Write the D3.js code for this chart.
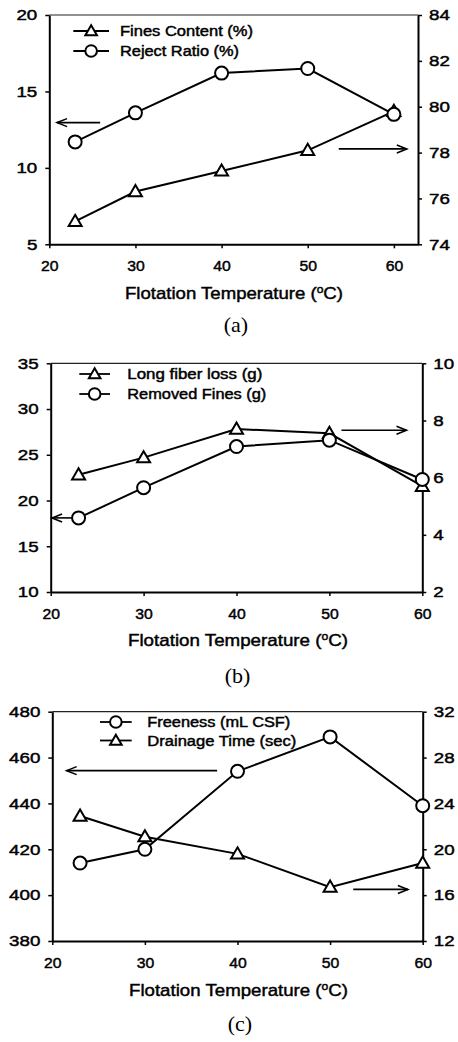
<!DOCTYPE html>
<html>
<head>
<meta charset="utf-8">
<script src="https://cdn.jsdelivr.net/npm/d3@7"></script>
<style>
  html, body { margin: 0; padding: 0; background: #fff; }
  svg { display: block; }
  .sans { font-family: "Liberation Sans", Arial, sans-serif; fill: #000; stroke: #000; stroke-width: 0.45px; }
  .serif { font-family: "Liberation Serif", "DejaVu Serif", serif; fill: #000; }
</style>
</head>
<body>
<svg id="chart" width="458" height="1042"></svg>
<script>
// ---------- data ----------
const temps = [23, 30, 40, 50, 60];
const xTicks = [20, 30, 40, 50, 60];

// (a)
const finesContent = [75.0, 76.3, 77.2, 78.1, 79.8];   // right axis (%)
const rejectRatio  = [11.7, 13.6, 16.2, 16.5, 13.5];   // left axis (%)
const aLeftTicks  = [5, 10, 15, 20];
const aRightTicks = [74, 76, 78, 80, 82, 84];

// (b)
const longFiberLoss = [6.1, 6.7, 7.7, 7.55, 5.7];      // right axis (g)
const removedFines  = [18.1, 21.4, 25.9, 26.6, 22.3];  // left axis (g)
const bLeftTicks  = [10, 15, 20, 25, 30, 35];
const bRightTicks = [2, 4, 6, 8, 10];

// (c)
const freeness     = [414, 420, 454, 469, 439];        // left axis (mL CSF)
const drainageTime = [22.9, 21.1, 19.6, 16.7, 18.8];   // right axis (sec)
const cLeftTicks  = [380, 400, 420, 440, 460, 480];
const cRightTicks = [12, 16, 20, 24, 28, 32];

const xTitle = "Flotation Temperature (";

// ---------- layout ----------
const panels = [
  { cap: "(a)", box: {l: 49.3, r: 418, t: 15, b: 244.3}, xDomain: [20, 62.8],
    left: {domain: [5, 20], ticks: aLeftTicks}, right: {domain: [74, 84], ticks: aRightTicks},
    series: [
      {name: "Fines Content (%)", values: finesContent, axis: "right", marker: "tri", textLen: 133},
      {name: "Reject Ratio (%)", values: rejectRatio, axis: "left", marker: "circ", textLen: 119}
    ],
    legend: {x0: 73.3, x1: 109, tx: 120, y0: 31, dy: 20},
    arrows: [ {axis: "left", from: [25.9, 12.96], to: [20.9, 12.96]},
              {axis: "right", from: [53.6, 78.16], to: [61.5, 78.16]} ],
    titleY: 293, titleX: 234, titleLen: 218, capX: 236, capY: 332 },
  { cap: "(b)", box: {l: 50.7, r: 422.3, t: 363.3, b: 592}, xDomain: [20, 60],
    left: {domain: [10, 35], ticks: bLeftTicks}, right: {domain: [2, 10], ticks: bRightTicks},
    series: [
      {name: "Long fiber loss (g)", values: longFiberLoss, axis: "right", marker: "tri", textLen: 135},
      {name: "Removed Fines (g)", values: removedFines, axis: "left", marker: "circ", textLen: 139}
    ],
    legend: {x0: 79.3, x1: 110, tx: 127.3, y0: 374, dy: 20},
    arrows: [ {axis: "left", from: [22.3, 18.1], to: [20.15, 18.1]},
              {axis: "right", from: [51.3, 7.66], to: [58.3, 7.66]} ],
    titleY: 640, titleX: 238, titleLen: 220, capX: 237.5, capY: 683 },
  { cap: "(c)", box: {l: 52.3, r: 422.7, t: 711.7, b: 941}, xDomain: [20, 60],
    left: {domain: [380, 480], ticks: cLeftTicks}, right: {domain: [12, 32], ticks: cRightTicks},
    series: [
      {name: "Freeness (mL CSF)", values: freeness, axis: "left", marker: "circ", textLen: 143},
      {name: "Drainage Time (sec)", values: drainageTime, axis: "right", marker: "tri", textLen: 149}
    ],
    legend: {x0: 100, x1: 131.7, tx: 147.3, y0: 722, dy: 18.5},
    arrows: [ {axis: "left", from: [37.8, 454.3], to: [21.55, 454.3]},
              {axis: "right", from: [52.5, 16.5], to: [58.4, 16.5]} ],
    titleY: 990, titleX: 238.5, titleLen: 219, capX: 240, capY: 1031 }
];

const svg = d3.select("#chart");

function drawMarker(g, kind, x, y, r) {
  if (kind === "circ") {
    g.append("circle").attr("cx", x).attr("cy", y).attr("r", r)
      .attr("fill", "#fff").attr("stroke", "#000").attr("stroke-width", 2);
  } else {
    const h = r;
    g.append("path")
      .attr("d", `M${x},${y - h} L${x + h},${y + h * 0.72} L${x - h},${y + h * 0.72} Z`)
      .attr("fill", "#fff").attr("stroke", "#000").attr("stroke-width", 2)
      .attr("stroke-linejoin", "miter");
  }
}

function stretch(sel, factor) {
  sel.each(function () {
    const w = this.getComputedTextLength();
    d3.select(this).attr("textLength", w * factor).attr("lengthAdjust", "spacingAndGlyphs");
  });
}

panels.forEach(p => {
  const g = svg.append("g");
  const x = d3.scaleLinear().domain(p.xDomain).range([p.box.l, p.box.r]);
  const yL = d3.scaleLinear().domain(p.left.domain).range([p.box.b, p.box.t]);
  const yR = d3.scaleLinear().domain(p.right.domain).range([p.box.b, p.box.t]);
  const yOf = a => a === "left" ? yL : yR;

  // top border (thin)
  g.append("line").attr("x1", p.box.l).attr("x2", p.box.r)
    .attr("y1", p.box.t).attr("y2", p.box.t)
    .attr("stroke", "#222").attr("stroke-width", 1.2);

  // axes
  const ax = g.append("g").attr("transform", `translate(0,${p.box.b})`)
    .call(d3.axisBottom(x).tickValues(xTicks).tickSize(4).tickPadding(12).tickSizeOuter(0));
  const al = g.append("g").attr("transform", `translate(${p.box.l},0)`)
    .call(d3.axisLeft(yL).tickValues(p.left.ticks).tickSize(4).tickPadding(8).tickSizeOuter(0));
  const ar = g.append("g").attr("transform", `translate(${p.box.r},0)`)
    .call(d3.axisRight(yR).tickValues(p.right.ticks).tickSize(4).tickPadding(7).tickSizeOuter(0));
  [ax, al, ar].forEach(a => {
    a.attr("font-family", null).attr("font-size", null);
    a.select(".domain").attr("stroke", "#000").attr("stroke-width", 2);
    a.selectAll(".tick line").attr("stroke", "#000").attr("stroke-width", 1.5);
    a.selectAll(".tick text").attr("class", "sans").style("font-size", "15px");
  });
  stretch(al.selectAll(".tick text"), 1.25);
  stretch(ar.selectAll(".tick text"), 1.25);
  stretch(ax.selectAll(".tick text"), 1.05);

  // series
  p.series.forEach(s => {
    const yS = yOf(s.axis);
    const line = d3.line().x((d, i) => x(temps[i])).y(d => yS(d));
    g.append("path").datum(s.values).attr("d", line)
      .attr("fill", "none").attr("stroke", "#000").attr("stroke-width", 2);
  });
  p.series.forEach(s => {
    const yS = yOf(s.axis);
    s.values.forEach((v, i) => drawMarker(g, s.marker, x(temps[i]), yS(v), 6.5));
  });

  // arrows
  p.arrows.forEach(a => {
    const yS = yOf(a.axis);
    const x1 = x(a.from[0]), y1 = yS(a.from[1]), x2 = x(a.to[0]), y2 = yS(a.to[1]);
    g.append("line").attr("x1", x1).attr("y1", y1).attr("x2", x2).attr("y2", y2)
      .attr("stroke", "#000").attr("stroke-width", 1.6);
    const dir = Math.sign(x2 - x1);
    g.append("path")
      .attr("d", `M${x2 - dir * 10},${y2 - 4} L${x2},${y2} L${x2 - dir * 10},${y2 + 4}`)
      .attr("fill", "none").attr("stroke", "#000").attr("stroke-width", 1.6);
  });

  // legend
  p.series.forEach((s, i) => {
    const ly = p.legend.y0 + i * p.legend.dy;
    g.append("line").attr("x1", p.legend.x0).attr("x2", p.legend.x1)
      .attr("y1", ly).attr("y2", ly).attr("stroke", "#000").attr("stroke-width", 1.8);
    drawMarker(g, s.marker, (p.legend.x0 + p.legend.x1) / 2, ly, 5.8);
    g.append("text").attr("class", "sans").attr("x", p.legend.tx).attr("y", ly).attr("dy", "0.36em")
      .style("font-size", "14px").attr("textLength", s.textLen).attr("lengthAdjust", "spacingAndGlyphs")
      .text(s.name);
  });

  // x title
  const t = g.append("text").attr("class", "sans").attr("x", p.titleX).attr("y", p.titleY).attr("dy", "0.36em")
    .attr("text-anchor", "middle").style("font-size", "17px")
    .attr("textLength", p.titleLen).attr("lengthAdjust", "spacingAndGlyphs");
  t.append("tspan").text(xTitle);
  t.append("tspan").style("font-size", "11px").attr("dy", -6).text("o");
  t.append("tspan").attr("dy", 6).text("C)");

  // caption
  g.append("text").attr("class", "serif").attr("x", p.capX).attr("y", p.capY).attr("text-anchor", "middle")
    .style("font-size", "22px")
    .text(p.cap);
});
</script>
</body>
</html>
